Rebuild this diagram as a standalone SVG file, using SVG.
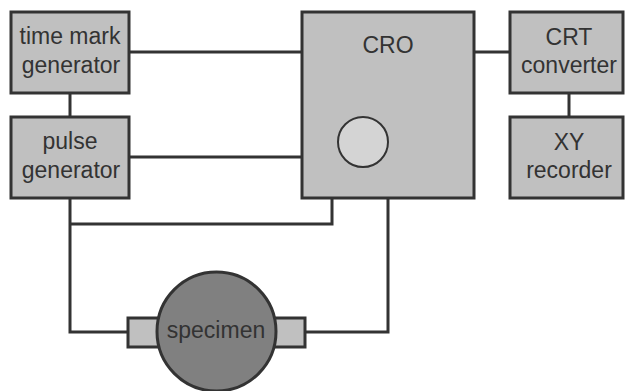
<svg xmlns="http://www.w3.org/2000/svg" width="625" height="391" viewBox="0 0 625 391">
<style>
.box{fill:#c0c0c0;stroke:#333;stroke-width:3}
.ln{fill:none;stroke:#333;stroke-width:3}
text{font-family:"Liberation Sans",Arial,sans-serif;font-size:23px;fill:#333;text-anchor:middle}
</style>
<rect width="625" height="391" fill="#fff"/>
<g id="connectors">
<line class="ln" x1="129" y1="52" x2="302" y2="52"/>
<line class="ln" x1="129" y1="157" x2="302" y2="157"/>
<line class="ln" x1="70" y1="93" x2="70" y2="117"/>
<line class="ln" x1="474" y1="52" x2="510" y2="52"/>
<line class="ln" x1="569" y1="93" x2="569" y2="117"/>
<polyline class="ln" points="332,198 332,224 70,224"/>
<polyline class="ln" points="70,198 70,332 128,332"/>
<polyline class="ln" points="388,198 388,332 305,332"/>
</g>
<g id="timemark">
<rect class="box" x="11" y="12" width="118" height="81"/>
<text x="70" y="44">time mark</text>
<text x="71" y="73">generator</text>
</g>
<g id="pulse">
<rect class="box" x="11" y="117" width="118" height="81"/>
<text x="70" y="149">pulse</text>
<text x="71" y="178">generator</text>
</g>
<g id="cro">
<rect class="box" x="302" y="12" width="172" height="186"/>
<text x="388" y="53">CRO</text>
<circle cx="363" cy="142" r="25" fill="#d4d4d4" stroke="#333" stroke-width="2"/>
</g>
<g id="crt">
<rect class="box" x="510" y="12" width="113" height="81"/>
<text x="569" y="45">CRT</text>
<text x="569" y="73">converter</text>
</g>
<g id="xy">
<rect class="box" x="510" y="117" width="113" height="81"/>
<text x="569" y="150">XY</text>
<text x="569" y="178">recorder</text>
</g>
<g id="specimen">
<rect class="box" x="128" y="318" width="32" height="29"/>
<rect class="box" x="273" y="318" width="32" height="29"/>
<circle cx="216.5" cy="331.5" r="59.5" fill="#808080" stroke="#333" stroke-width="3"/>
<text x="216" y="338">specimen</text>
</g>
</svg>
